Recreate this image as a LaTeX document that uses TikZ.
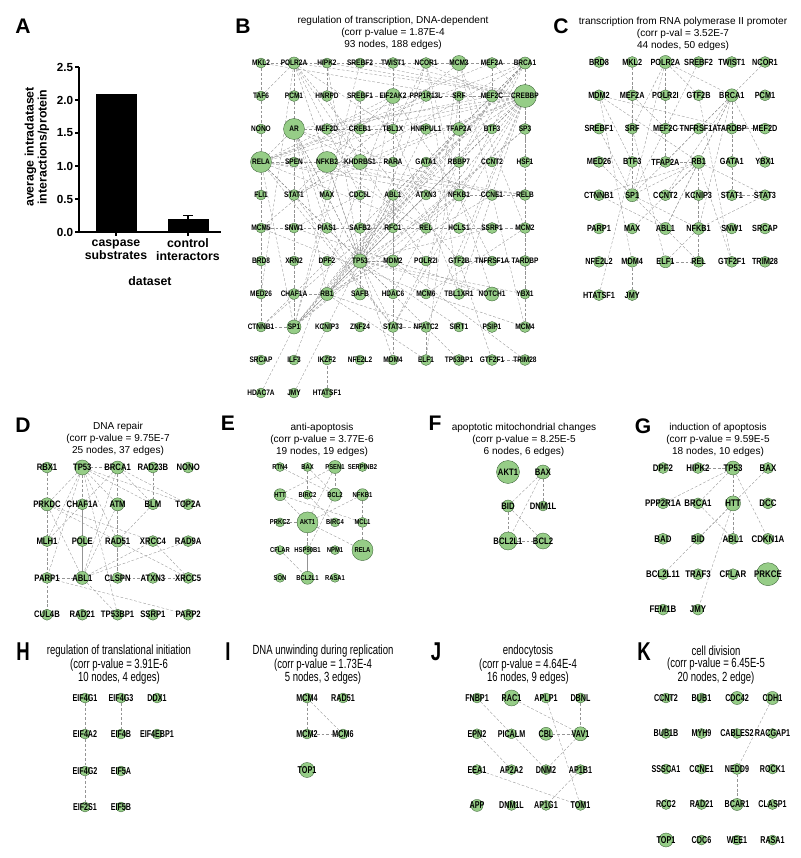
\documentclass[tikz,border=0pt]{standalone}
\usepackage{fontspec}
\setmainfont{Liberation Sans}
\newfontfamily\narrowfont[FakeStretch=0.82]{Liberation Sans}
\newfontfamily\cnfont[FakeStretch=0.72]{Liberation Sans}
\usetikzlibrary{positioning, backgrounds}
\pgfdeclarelayer{paper}
\pgfsetlayers{paper,background,main}
\definecolor{genefill}{RGB}{150,205,135}
\definecolor{geneline}{RGB}{55,95,50}
\newcommand{\gfont}[1]{\narrowfont\bfseries\fontsize{#1}{#1}\selectfont}
\newcommand{\cfont}[1]{\cnfont\bfseries\fontsize{#1}{#1}\selectfont}

\begin{document}
\begin{tikzpicture}[x=0.03cm, y=-0.03cm,
    gene/.style={circle, draw=geneline, fill=genefill, line width=0.3pt, inner sep=0pt, minimum size=#1*0.3mm},
    link/.style={draw=black!42, line width=0.3pt, dash pattern=on 2.4pt off 1.6pt},
    panel/.style={font=\bfseries\fontsize{18}{18}\selectfont, inner sep=1pt},
    cnpanel/.style={font=\cnfont\bfseries\fontsize{22}{22}\selectfont, inner sep=1pt},
    ttl/.style={align=center, inner sep=1pt, font=\fontsize{8.6}{10}\selectfont},
    cnttl/.style={align=center, inner sep=1pt, font=\cnfont\fontsize{11.3}{10.4}\selectfont},
    axisline/.style={line width=1pt},
    barbox/.style={fill=black, draw=black},
    ticklab/.style={font=\bfseries\fontsize{10}{10}\selectfont, inner sep=1pt},
    catlab/.style={align=center, font=\bfseries\fontsize{10.5}{11}\selectfont}
]
\begin{pgfonlayer}{paper}
\fill[white] (0,0) rectangle (800,858);
\end{pgfonlayer}
\useasboundingbox (0,0) rectangle (800,858);

% ---------- A: bar chart
\node[panel] (lA) at (23,26) {A};
\draw[barbox] (96,232) rectangle (136,94.7);
\draw[barbox] (168,232) rectangle (208,218.8);
\draw[axisline] (79,67) -- (79,232) -- (221,232);
\foreach \v/\t [count=\k] in {0/0.0,0.5/0.5,1/1.0,1.5/1.5,2/2.0,2.5/2.5}
  \draw[axisline] (79,{232-66*\v}) -- ++(-4,0) node[left, ticklab] (yt\k) {\t};
\draw[axisline] (116,232) -- ++(0,4);
\draw[axisline] (188,232) -- ++(0,4);
\draw[axisline] (188,218.8) -- (188,215.5) (183,215.5) -- (193,215.5);
\node[catlab] (caspase) at (116,249.5) {caspase\\substrates};
\node[catlab] (control) at (188,249.5) {control\\interactors};
\node[catlab] (dataset) at (150,281) {dataset};
\node[catlab, rotate=90] (ylab) at (37,147) {average intradataset\\interactions/protein};

% ---------- B: regulation of transcription
\node[panel] (lB) at (243,26) {B};
\node[ttl] (tB) at (393,33) {regulation of transcription, DNA-dependent\\(corr p-value = 1.87E-4\\93 nodes, 188 edges)};
\begin{scope}[every label/.style={font=\gfont{6.8}}]
\foreach \g/\sz [count=\i from 0] in {MKL2/10,POLR2A/12,HIPK2/10,SREBF2/10,TWIST1/11,NCOR1/11,MCM3/15,MEF2A/11,BRCA1/12,
  TAF6/10,PCM1/11,HNRPD/11,SREBF1/11,EIF2AK2/15,PPP1R13L/11,SRF/10,MEF2C/12,CREBBP/23,
  NONO/10,AR/21,MEF2D/11,CREB1/11,TBL1X/10,HNRPUL1/11,TFAP2A/13,BTF3/10,SP3/11,
  RELA/21,SPEN/10,NFKB2/21,KHDRBS1/15,RARA/10,GATA1/10,RBBP7/11,CCNT2/10,HSF1/11,
  FLI1/10,STAT1/11,MAX/10,CDC5L/10,ABL1/11,ATXN3/10,NFKB1/12,CCNE1/11,RELB/11,
  MCM5/10,SNW1/10,PIAS1/11,SAFB2/11,RFC1/10,REL/11,HCLS1/11,SSRP1/11,MCM2/11,
  BRD8/10,XRN2/10,DPF2/10,TP53/14,MDM2/12,POLR2I/10,GTF2B/11,TNFRSF1A/10,TARDBP/11,
  MED26/10,CHAF1A/11,RB1/13,SAFB/12,HDAC6/10,MCM6/10,TBL1XR1/11,NOTCH1/14,YBX1/10,
  CTNNB1/10,SP1/14,KCNIP3/10,ZNF24/10,STAT3/11,NFATC2/11,SIRT1/10,PSIP1/11,MCM4/11,
  SRCAP/10,ILF3/10,IKZF2/10,NFE2L2/10,MDM4/10,ELF1/11,TP53BP1/11,GTF2F1/11,TRIM28/11,
  HDAC7A/10,JMY/10,HTATSF1/10}{
  \pgfmathtruncatemacro{\gc}{mod(\i,9)}
  \pgfmathtruncatemacro{\gr}{\i/9}
  \node[gene=\sz, label={center:\g}] (B\g) at ({261+33*\gc},{63+33*\gr}) {};
}
\end{scope}
\begin{pgfonlayer}{background}
\foreach \a/\b in {MKL2/POLR2A,POLR2A/HIPK2,HIPK2/SREBF2,SREBF2/TWIST1,TWIST1/NCOR1,NCOR1/MCM3,MCM3/MEF2A,MEF2A/BRCA1,
  MKL2/TAF6,TAF6/NONO,NONO/RELA,RELA/FLI1,MCM5/BRD8,BRD8/MED26,MKL2/SRF,
  POLR2A/PCM1,POLR2A/TAF6,POLR2A/AR,POLR2A/POLR2I,POLR2A/GTF2B,POLR2A/TP53,POLR2A/CREBBP,POLR2A/TBL1X,
  POLR2A/CDC5L,POLR2A/SP1,POLR2A/MED26,HIPK2/TP53,HIPK2/HNRPD,HIPK2/CREBBP,SREBF2/CREBBP,SREBF2/SP1,
  SREBF1/SP1,SREBF1/CREBBP,SREBF1/CREB1,TWIST1/CREBBP,TWIST1/EIF2AK2,NCOR1/MEF2C,NCOR1/RARA,NCOR1/TBL1X,
  NCOR1/TBL1XR1,NCOR1/NFKB1,MCM3/MCM5,MCM3/MCM2,MCM3/MCM6,MCM3/MCM4,MEF2A/MEF2C,MEF2A/MEF2D,MEF2A/CREBBP,
  BRCA1/CREBBP,BRCA1/TP53,BRCA1/RB1,BRCA1/SP1,BRCA1/STAT1,BRCA1/ABL1,BRCA1/NFKB1,BRCA1/RELA,BRCA1/TFAP2A,
  BRCA1/CTNNB1,BRCA1/HSF1,EIF2AK2/STAT1,EIF2AK2/STAT3,EIF2AK2/TP53,EIF2AK2/NFKB1,EIF2AK2/ILF3,EIF2AK2/RELA,
  PPP1R13L/TP53,PPP1R13L/RELA,SRF/NFKB1,SRF/CREBBP,SRF/ELF1,MEF2C/CREBBP,MEF2C/MEF2D,MEF2C/HDAC6,
  CREBBP/SP3,CREBBP/RELA,CREBBP/TP53,CREBBP/SP1,CREBBP/RB1,CREBBP/NFKB1,CREBBP/STAT1,CREBBP/STAT3,
  CREBBP/MDM2,CREBBP/TFAP2A,CREBBP/GATA1,CREBBP/CREB1,CREBBP/HSF1,CREBBP/NFATC2,CREBBP/RELB,CREBBP/CTNNB1,
  CREBBP/AR,CREBBP/GTF2B,CREBBP/YBX1,CREBBP/KHDRBS1,CREBBP/TBL1XR1,AR/RELA,AR/SP1,AR/RB1,AR/TP53,AR/STAT3,
  AR/CCNE1,AR/PIAS1,AR/KHDRBS1,AR/TBL1X,AR/SAFB,CREB1/TP53,CREB1/RELA,TBL1X/TBL1XR1,HNRPUL1/TP53,
  TFAP2A/RB1,TFAP2A/SP1,TFAP2A/TP53,SP3/SP1,SP3/RB1,RELA/NFKB2,RELA/NFKB1,RELA/RELB,RELA/REL,RELA/TP53,
  RELA/STAT3,RELA/SP1,RELA/KHDRBS1,RELA/SPEN,RELA/STAT1,RELA/RARA,RELA/CTNNB1,RELA/PIAS1,NFKB2/NFKB1,
  NFKB2/RELB,NFKB2/REL,NFKB2/TP53,KHDRBS1/HNRPD,GATA1/SP1,GATA1/RB1,RBBP7/RB1,RBBP7/BRCA1,STAT1/STAT3,
  STAT1/SP1,CDC5L/SNW1,ABL1/RB1,ABL1/TP53,ABL1/MDM2,NFKB1/RELB,NFKB1/REL,NFKB1/STAT3,NFKB1/SP1,
  NFKB1/NOTCH1,NFKB1/TP53,CCNE1/RB1,MCM5/MCM2,MCM5/MCM6,SNW1/NOTCH1,PIAS1/TP53,SAFB2/SAFB,MCM2/MCM4,
  MCM2/MCM6,TP53/MDM2,TP53/MDM4,TP53/SP1,TP53/RB1,TP53/TP53BP1,TP53/SIRT1,TP53/HDAC6,TP53/SSRP1,
  TP53/YBX1,TP53/NOTCH1,MDM2/MDM4,MDM2/RB1,MDM2/TRIM28,GTF2B/GTF2F1,GTF2B/TARDBP,TNFRSF1A/NFKB1,
  CHAF1A/RB1,RB1/SP1,RB1/ELF1,RB1/NFATC2,MCM6/MCM4,STAT3/NFATC2,NFATC2/ELF1,SP1/CTNNB1,HDAC7A/SP1,
  JMY/TP53,HTATSF1/IKZF2,YBX1/MCM4,GTF2F1/TRIM28}
  \draw[link] (B\a) -- (B\b);
\end{pgfonlayer}

% ---------- C: transcription from RNA pol II promoter
\node[panel] (lC) at (561,26) {C};
\node[ttl] (tC) at (683,34) {transcription from RNA polymerase II promoter\\(corr p-val = 3.52E-7\\44 nodes, 50 edges)};
\begin{scope}[every label/.style={font=\gfont{7.6}}]
\foreach \g/\sz [count=\i from 0] in {BRD8/11,MKL2/11,POLR2A/13,SREBF2/11,TWIST1/11,NCOR1/11,
  MDM2/11,MEF2A/11,POLR2I/11,GTF2B/11,BRCA1/13,PCM1/11,
  SREBF1/11,SRF/11,MEF2C/11,TNFRSF1A/11,TARDBP/11,MEF2D/11,
  MED26/11,BTF3/11,TFAP2A/11,RB1/13,GATA1/11,YBX1/11,
  CTNNB1/11,SP1/13,CCNT2/11,KCNIP3/11,STAT1/11,STAT3/11,
  PARP1/11,MAX/11,ABL1/12,NFKB1/12,SNW1/11,SRCAP/11,
  NFE2L2/11,MDM4/11,ELF1/12,REL/11,GTF2F1/11,TRIM28/11,
  HTATSF1/11,JMY/11}{
  \pgfmathtruncatemacro{\gc}{mod(\i,6)}
  \pgfmathtruncatemacro{\gr}{\i/6}
  \node[gene=\sz, label={center:\g}] (C\g) at ({599+33.2*\gc},{62+33.3*\gr}) {};
}
\end{scope}
\begin{pgfonlayer}{background}
\foreach \a/\b in {POLR2A/POLR2I,POLR2A/SRF,POLR2A/GTF2B,POLR2A/BRCA1,POLR2A/TFAP2A,POLR2A/MEF2C,POLR2A/SP1,
  NCOR1/BRCA1,MKL2/SRF,MDM2/RB1,MDM2/TARDBP,MDM2/MDM4,MDM2/BTF3,MEF2A/MEF2C,MEF2A/SP1,BRCA1/RB1,
  BRCA1/GATA1,BRCA1/STAT1,BRCA1/SP1,BRCA1/YBX1,BRCA1/ABL1,BRCA1/NFKB1,BRCA1/TFAP2A,BRCA1/CCNT2,
  SREBF1/SP1,SRF/ELF1,MEF2C/MEF2D,RB1/SP1,RB1/CCNT2,RB1/KCNIP3,RB1/ABL1,RB1/NFKB1,RB1/MAX,RB1/STAT3,
  RB1/CTNNB1,RB1/TFAP2A,RB1/GTF2F1,STAT1/STAT3,STAT3/NFKB1,NFKB1/REL,NFKB1/ELF1,ABL1/REL,ELF1/REL,
  JMY/MDM4,HTATSF1/BTF3,GTF2B/GTF2F1,SP1/NFKB1,MED26/ABL1,CTNNB1/ABL1,SREBF2/SP1}
  \draw[link] (C\a) -- (C\b);
\end{pgfonlayer}

% ---------- D: DNA repair
\node[panel] (lD) at (23,425) {D};
\node[ttl] (tD) at (118,439) {DNA repair\\(corr p-value = 9.75E-7\\25 nodes, 37 edges)};
\begin{scope}[every label/.style={font=\gfont{8}}]
\foreach \g/\sz [count=\i from 0] in {RBX1/11,TP53/15,BRCA1/13,RAD23B/11,NONO/11,
  PRKDC/13,CHAF1A/11,ATM/13,BLM/11,TOP2A/11,
  MLH1/11,POLE/11,RAD51/12,XRCC4/11,RAD9A/11,
  PARP1/11,ABL1/13,CLSPN/11,ATXN3/11,XRCC5/11,
  CUL4B/11,RAD21/11,TP53BP1/11,SSRP1/11,PARP2/11}{
  \pgfmathtruncatemacro{\gc}{mod(\i,5)}
  \pgfmathtruncatemacro{\gr}{\i/5}
  \node[gene=\sz, label={center:\g}] (D\g) at ({47+35.3*\gc},{467.5+36.8*\gr}) {};
}
\end{scope}
\begin{pgfonlayer}{background}
\foreach \a/\b in {RBX1/CUL4B,TP53/BRCA1,TP53/CHAF1A,TP53/PRKDC,TP53/ATM,TP53/BLM,TP53/TOP2A,TP53/RAD51,
  TP53/ABL1,TP53/TP53BP1,TP53/MLH1,TP53/PARP1,BRCA1/ATM,BRCA1/RAD51,BRCA1/BLM,BRCA1/ABL1,BRCA1/CLSPN,
  BRCA1/MLH1,BRCA1/TOP2A,RAD23B/BLM,BLM/RAD51,ATM/ABL1,ATM/CLSPN,PRKDC/XRCC4,PRKDC/XRCC5,PRKDC/ABL1,
  PRKDC/PARP1,XRCC4/XRCC5,RAD9A/ABL1,PARP1/ABL1,CLSPN/ATXN3,ATXN3/XRCC5,PARP1/PARP2,XRCC4/ABL1,
  CHAF1A/ABL1,TP53/POLE,ABL1/TP53BP1}
  \draw[link] (D\a) -- (D\b);
\end{pgfonlayer}

% ---------- E: anti-apoptosis
\node[panel] (lE) at (228,423) {E};
\node[ttl] (tE) at (322,440) {anti-apoptosis\\(corr p-value = 3.77E-6\\19 nodes, 19 edges)};
\begin{scope}[every label/.style={font=\gfont{6.1}}]
\foreach \g/\sz [count=\i from 0] in {RTN4/9,BAX/9,PSEN1/13,SERPINB2/9,
  HTT/12,BIRC2/9,BCL2/13,NFKB1/12,
  PRKCZ/9,AKT1/21,BIRC4/9,MCL1/10,
  CFLAR/9,HSP90B1/9,NPM1/9,RELA/21,
  SON/9,BCL2L1/13,RASA1/9}{
  \pgfmathtruncatemacro{\gc}{mod(\i,4)}
  \pgfmathtruncatemacro{\gr}{\i/4}
  \node[gene=\sz, label={center:\g}] (E\g) at ({280+27.5*\gc},{467+27.7*\gr}) {};
}
\end{scope}
\begin{pgfonlayer}{background}
\foreach \a/\b in {RTN4/BCL2,BAX/BCL2,PSEN1/BCL2,PSEN1/AKT1,PSEN1/HTT,HTT/AKT1,HTT/MCL1,BIRC2/BIRC4,
  BCL2/HSP90B1,NFKB1/MCL1,NFKB1/AKT1,AKT1/PRKCZ,AKT1/HSP90B1,AKT1/BCL2L1,AKT1/RELA,MCL1/RELA,
  CFLAR/BCL2L1,HSP90B1/BCL2L1,BAX/BIRC2}
  \draw[link] (E\a) -- (E\b);
\end{pgfonlayer}

% ---------- F: apoptotic mitochondrial changes
\node[panel] (lF) at (435,423) {F};
\node[ttl] (tF) at (524,440) {apoptotic mitochondrial changes\\(corr p-value = 8.25E-5\\6 nodes, 6 edges)};
\begin{scope}[every label/.style={font=\gfont{8}}]
\node[gene=23, label={center:AKT1}] (FAKT1) at (508,472) {};
\node[gene=14, label={center:BAX}] (FBAX) at (543,472) {};
\node[gene=12, label={center:BID}] (FBID) at (508,506) {};
\node[gene=10, label={center:DNM1L}] (FDNM1L) at (543,506) {};
\node[gene=18, label={center:BCL2L1}] (FBCL2L1) at (508,541) {};
\node[gene=16, label={center:BCL2}] (FBCL2) at (543,541) {};
\end{scope}
\begin{pgfonlayer}{background}
\foreach \a/\b in {BAX/BID,BAX/DNM1L,BAX/BCL2L1,BID/BCL2L1,BID/BCL2,BCL2L1/BCL2}
  \draw[link] (F\a) -- (F\b);
\end{pgfonlayer}

% ---------- G: induction of apoptosis
\node[panel] (lG) at (643,426) {G};
\node[ttl] (tG) at (718,440) {induction of apoptosis\\(corr p-value = 9.59E-5\\18 nodes, 10 edges)};
\begin{scope}[every label/.style={font=\gfont{8.2}}]
\foreach \g/\sz [count=\i from 0] in {DPF2/11,HIPK2/11,TP53/14,BAX/11,
  PPP2R1A/11,BRCA1/11,HTT/15,DCC/11,
  BAD/11,BID/11,ABL1/11,CDKN1A/11,
  BCL2L11/11,TRAF3/11,CFLAR/11,PRKCE/23,
  FEM1B/11,JMY/11}{
  \pgfmathtruncatemacro{\gc}{mod(\i,4)}
  \pgfmathtruncatemacro{\gr}{\i/4}
  \node[gene=\sz, label={center:\g}] (G\g) at ({663+35*\gc},{468+35.4*\gr}) {};
}
\end{scope}
\begin{pgfonlayer}{background}
\foreach \a/\b in {HIPK2/TP53,TP53/PPP2R1A,TP53/HTT,TP53/ABL1,TP53/CDKN1A,TP53/BRCA1,BAX/BID,
  BRCA1/ABL1,HTT/BCL2L11,HTT/JMY}
  \draw[link] (G\a) -- (G\b);
\end{pgfonlayer}

% ---------- H: regulation of translational initiation
\node[cnpanel] (lH) at (23,652) {H};
\node[cnttl] (tH) at (119,665) {regulation of translational initiation\\(corr p-value = 3.91E-6\\10 nodes, 4 edges)};
\begin{scope}[every label/.style={font=\cfont{8.5}}]
\node[gene=10, label={center:EIF4G1}] (HEIF4G1) at (85,698) {};
\node[gene=10, label={center:EIF4G3}] (HEIF4G3) at (121,698) {};
\node[gene=10, label={center:DDX1}] (HDDX1) at (157,698) {};
\node[gene=10, label={center:EIF4A2}] (HEIF4A2) at (85,734) {};
\node[gene=10, label={center:EIF4B}] (HEIF4B) at (121,734) {};
\node[gene=10, label={center:EIF4EBP1}] (HEIF4EBP1) at (157,734) {};
\node[gene=10, label={center:EIF4G2}] (HEIF4G2) at (85,771) {};
\node[gene=10, label={center:EIF5A}] (HEIF5A) at (121,771) {};
\node[gene=10, label={center:EIF2S1}] (HEIF2S1) at (85,807) {};
\node[gene=10, label={center:EIF5B}] (HEIF5B) at (121,807) {};
\end{scope}
\begin{pgfonlayer}{background}
\foreach \a/\b in {EIF4G1/EIF4A2,EIF4A2/EIF4G2,EIF4G2/EIF2S1,EIF4G3/EIF4B}
  \draw[link] (H\a) -- (H\b);
\end{pgfonlayer}

% ---------- I: DNA unwinding
\node[cnpanel] (lI) at (228,652) {I};
\node[cnttl] (tI) at (323,665) {DNA unwinding during replication\\(corr p-value = 1.73E-4\\5 nodes, 3 edges)};
\begin{scope}[every label/.style={font=\cfont{8.5}}]
\node[gene=10, label={center:MCM4}] (IMCM4) at (307,698) {};
\node[gene=10, label={center:RAD51}] (IRAD51) at (343,698) {};
\node[gene=10, label={center:MCM2}] (IMCM2) at (307,734) {};
\node[gene=10, label={center:MCM6}] (IMCM6) at (343,734) {};
\node[gene=15, label={center:TOP1}] (ITOP1) at (307,770) {};
\end{scope}
\begin{pgfonlayer}{background}
\foreach \a/\b in {MCM4/MCM2,MCM4/MCM6,MCM2/MCM6}
  \draw[link] (I\a) -- (I\b);
\end{pgfonlayer}

% ---------- J: endocytosis
\node[cnpanel] (lJ) at (436,652) {J};
\node[cnttl] (tJ) at (528,665) {endocytosis\\(corr p-value = 4.64E-4\\16 nodes, 9 edges)};
\begin{scope}[every label/.style={font=\cfont{8.5}}]
\foreach \g/\sz [count=\i from 0] in {FNBP1/10,RAC1/16,APLP1/10,DBNL/10,
  EPN2/10,PICALM/10,CBL/13,VAV1/14,
  EEA1/10,AP2A2/10,DNM2/10,AP1B1/10,
  APP/12,DNM1L/10,AP1G1/10,TOM1/10}{
  \pgfmathtruncatemacro{\gc}{mod(\i,4)}
  \pgfmathtruncatemacro{\gr}{\i/4}
  \node[gene=\sz, label={center:\g}] (J\g) at ({477+34.5*\gc},{698+35.8*\gr}) {};
}
\end{scope}
\begin{pgfonlayer}{background}
\foreach \a/\b in {FNBP1/DNM2,RAC1/VAV1,APLP1/TOM1,DBNL/VAV1,EPN2/AP2A2,VAV1/DNM2,EEA1/TOM1,AP1B1/AP1G1,CBL/VAV1}
  \draw[link] (J\a) -- (J\b);
\end{pgfonlayer}

% ---------- K: cell division
\node[cnpanel] (lK) at (644,652) {K};
\node[cnttl] (tK) at (716,665) {cell division\\(corr p-value = 6.45E-5\\20 nodes, 2 edge)};
\begin{scope}[every label/.style={font=\cfont{8.5}}]
\foreach \g/\sz [count=\i from 0] in {CCNT2/10,BUB1/10,CDC42/13,CDH1/13,
  BUB1B/10,MYH9/10,CABLES2/10,RACGAP1/10,
  SSSCA1/10,CCNE1/10,NEDD9/11,ROCK1/10,
  RCC2/10,RAD21/10,BCAR1/12,CLASP1/10,
  TOP1/14,CDC6/10,WEE1/10,RASA1/10}{
  \pgfmathtruncatemacro{\gc}{mod(\i,4)}
  \pgfmathtruncatemacro{\gr}{\i/4}
  \node[gene=\sz, label={center:\g}] (K\g) at ({666+35.5*\gc},{698+35.5*\gr}) {};
}
\end{scope}
\begin{pgfonlayer}{background}
\foreach \a/\b in {CDH1/NEDD9,NEDD9/BCAR1}
  \draw[link] (K\a) -- (K\b);
\end{pgfonlayer}

\end{tikzpicture}
\end{document}
